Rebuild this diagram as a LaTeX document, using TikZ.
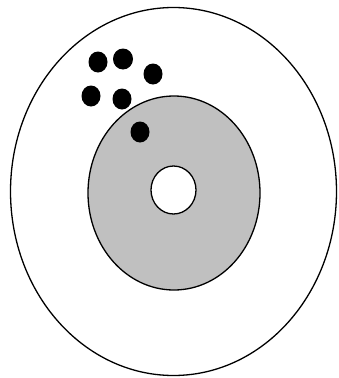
\documentclass[tikz,border=0pt]{standalone}
\begin{document}
\begin{tikzpicture}[x=1pt,y=-1pt,
  ring/.style={draw=black,line width=1.3pt},
  dot/.style={fill=black}]
\useasboundingbox (0,0) rectangle (338,378);
\path[ring,fill=white] (173.5,191.5) ellipse [x radius=163,y radius=184];
\path[ring,fill={rgb,255:red,192;green,192;blue,192}] (174,193) ellipse [x radius=86,y radius=97];
\path[ring,fill=white] (173.5,190) ellipse [x radius=22.5,y radius=24];
\fill[dot] (98,62) ellipse [x radius=9.5,y radius=10.5];
\fill[dot] (123,59) ellipse [x radius=10,y radius=10.5];
\fill[dot] (153,74) ellipse [x radius=9.5,y radius=10.5];
\fill[dot] (91,96) ellipse [x radius=9.5,y radius=10.5];
\fill[dot] (122,99) ellipse [x radius=9.5,y radius=10.5];
\fill[dot] (140,132) ellipse [x radius=9.5,y radius=10.5];
\end{tikzpicture}
\end{document}
